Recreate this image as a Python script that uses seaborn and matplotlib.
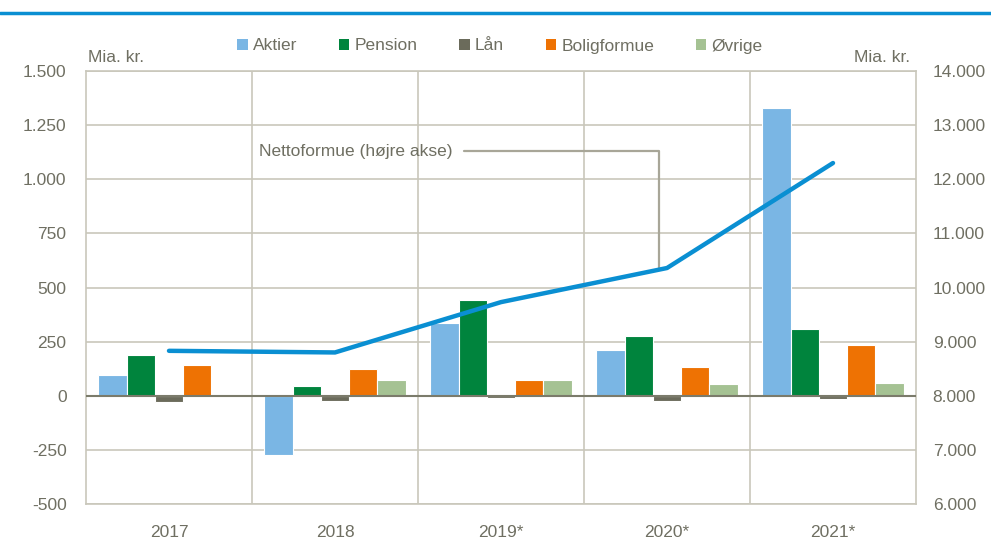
import numpy as np
import pandas as pd
import matplotlib
matplotlib.use("Agg")
import matplotlib.pyplot as plt
import seaborn as sns
from matplotlib.patches import Patch
from matplotlib.ticker import FuncFormatter

years = ["2017", "2018", "2019*", "2020*", "2021*"]
series = ["Aktier", "Pension", "Lån", "Boligformue", "Øvrige"]
aktier = [98, -275, 335, 212, 1330]
pension = [190, 46, 442, 274, 309]
laan = [-30, -22, -10, -22, -17]
bolig = [140, 125, 74, 134, 235]
oevrige = [0, 74, 73, 56, 60]
netto = [8830, 8800, 9730, 10360, 12300]

colors = ["#7ab6e4", "#00843d", "#6b6b5b", "#ee7203", "#a5c293"]
txt = "#6f6f62"
grid_c = "#c9c7bb"

sns.set_theme(style="white")
plt.rcParams["font.family"] = ["Liberation Sans", "DejaVu Sans"]

df = pd.DataFrame({
    "year": np.repeat(years, len(series)),
    "serie": series * len(years),
    "value": np.array([aktier, pension, laan, bolig, oevrige]).T.ravel(),
})

fig = plt.figure(figsize=(9.91, 5.43), dpi=100)
ax = fig.add_axes([86 / 991, 1 - 504 / 543, 830 / 991, 433 / 543])

sns.barplot(data=df, x="year", y="value", hue="serie", order=years, hue_order=series,
            palette=colors, saturation=1, width=0.85, edgecolor="white", linewidth=0.8,
            legend=False, ax=ax, zorder=3)

ax.set_xlim(-0.5, len(years) - 0.5)
ax.set_ylim(-500, 1500)
ax.set_yticks(np.arange(-500, 1501, 250))
ax.yaxis.set_major_formatter(FuncFormatter(lambda v, p: f"{v:,.0f}".replace(",", ".")))
ax.set_xticks(range(len(years)))
ax.set_xticks(np.arange(0.5, len(years) - 0.5, 1), minor=True)
ax.grid(axis="y", color=grid_c, linewidth=1.2, zorder=0)
ax.grid(axis="x", which="minor", color=grid_c, linewidth=1.2, zorder=0)
ax.axhline(0, color="#7b7b6b", linewidth=1.5, zorder=4)
for s in ax.spines.values():
    s.set_color(grid_c)
    s.set_linewidth(1.2)
ax.tick_params(axis="both", which="both", length=0, labelsize=12.5, colors=txt)
ax.tick_params(axis="y", pad=14)
ax.tick_params(axis="x", pad=15)
ax.set_xlabel("")
ax.set_ylabel("")
ax.set_axisbelow(True)

ax2 = ax.twinx()
ax2.set_ylim(6000, 14000)
ax2.set_yticks(np.arange(6000, 14001, 1000))
ax2.yaxis.set_major_formatter(FuncFormatter(lambda v, p: f"{v:,.0f}".replace(",", ".")))
ax2.tick_params(axis="y", length=0, labelsize=12.5, colors=txt, pad=12)
for s in ax2.spines.values():
    s.set_visible(False)
sns.lineplot(x=list(range(len(years))), y=netto, ax=ax2, color="#0a8fd2",
             linewidth=3.2, solid_capstyle="round", zorder=5)
ax2.grid(False)

# callout ends on the line just left of the 2020 point
xa = 2.95
ya = netto[2] + (netto[3] - netto[2]) * (xa - 2)
ax2.annotate("Nettoformue (højre akse)", xy=(xa, ya), xytext=(0.54, 12520),
             textcoords="data", fontsize=12.5, color=txt, va="center", ha="left",
             arrowprops=dict(arrowstyle="-", color="#a8a698", lw=1.6,
                             connectionstyle="angle,angleA=0,angleB=90,rad=0",
                             shrinkA=6, shrinkB=0))

handles = [Patch(facecolor=c, edgecolor="none") for c in colors]
fig.legend(handles, series, loc="center", bbox_to_anchor=(500 / 991, 1 - 46 / 543),
           ncol=5, frameon=False, fontsize=12.5, labelcolor=txt,
           handlelength=0.6, handleheight=0.6, handletextpad=0.3, columnspacing=2.4)

fig.text(88 / 991, 1 - 57 / 543, "Mia. kr.", fontsize=12.5, color=txt, ha="left", va="center")
fig.text(910 / 991, 1 - 57 / 543, "Mia. kr.", fontsize=12.5, color=txt, ha="right", va="center")

fig.add_artist(plt.Line2D([0, 1], [1 - 13 / 543, 1 - 13 / 543], color="#0a8fd2", linewidth=2.5))

fig.savefig("out.png", dpi=100)
